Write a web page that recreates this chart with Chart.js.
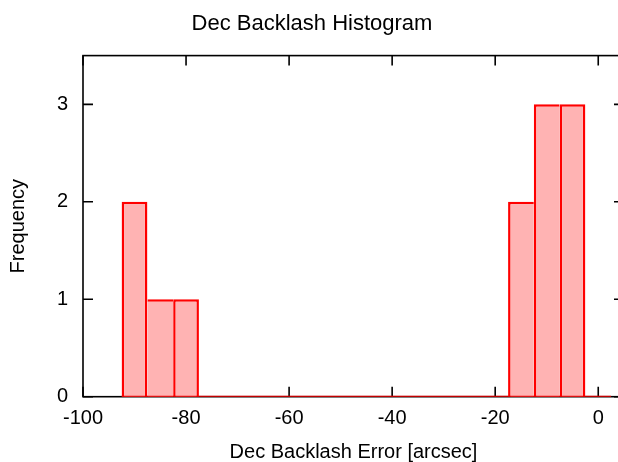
<!DOCTYPE html>
<html>
<head>
<meta charset="utf-8">
<script src="https://cdn.jsdelivr.net/npm/chart.js@4/dist/chart.umd.min.js"></script>
<style>
  body { margin: 0; background: #fff; overflow: hidden; }
  #wrap { width: 618px; height: 462px; overflow: hidden; }
</style>
</head>
<body>
<div id="wrap"><canvas id="myChart" width="624" height="462"></canvas></div>
<script>
// histogram bins (centre of each 5 arcsec bin) and their counts
const binCenters = [-90, -85, -80, -75, -70, -65, -60, -55, -50, -45, -40, -35, -30, -25, -20, -15, -10, -5, 0];
const counts     = [  2,   1,   1,   0,   0,   0,   0,   0,   0,   0,   0,   0,   0,   0,   0,   2,   3,   3, 0];
const binWidth = 5;
const xTicks = [-100, -80, -60, -40, -20, 0];
const yTicks = [0, 1, 2, 3];

const fontFam = "'Liberation Sans', Arial, sans-serif";

// gnuplot-like frame: border box plus inward ticks mirrored on all four sides
const frame = {
  id: 'frame',
  beforeDatasetsDraw(chart) {
    const {ctx, chartArea: a, scales: {x, y}} = chart;
    ctx.save();
    ctx.strokeStyle = '#000';
    ctx.lineWidth = 1.6;
    ctx.strokeRect(a.left, a.top, a.right - a.left, a.bottom - a.top);
    ctx.beginPath();
    xTicks.forEach(v => {
      const px = x.getPixelForValue(v);
      ctx.moveTo(px, a.bottom); ctx.lineTo(px, a.bottom - 10);
      ctx.moveTo(px, a.top); ctx.lineTo(px, a.top + 10);
    });
    yTicks.forEach(v => {
      const py = y.getPixelForValue(v);
      ctx.moveTo(a.left, py); ctx.lineTo(a.left + 10, py);
      ctx.moveTo(a.right, py); ctx.lineTo(a.right - 10, py);
    });
    ctx.stroke();
    ctx.restore();
  }
};

// a shared edge between two bins is drawn once, by the taller one (right one on a tie)
function edgeWidth(ctx) {
  const i = ctx.dataIndex;
  const own = counts[i];
  const prev = i > 0 ? counts[i - 1] : 0;
  const next = i < counts.length - 1 ? counts[i + 1] : 0;
  const w = 2.5;
  return {top: w, bottom: 0, left: prev > own ? 0 : w, right: next >= own ? 0 : w};
}

const first = binCenters[0] - binWidth / 2;
const last = binCenters[binCenters.length - 1] + binWidth / 2;

new Chart(document.getElementById('myChart'), {
  data: {
    datasets: [
      {
        type: 'line',
        label: 'baseline',
        data: [{x: first, y: 0}, {x: last, y: 0}],
        borderColor: '#ff0000',
        borderWidth: 2,
        pointRadius: 0,
        order: 0
      },
      {
        type: 'bar',
        label: 'Frequency',
        data: binCenters.map((c, i) => ({x: c, y: counts[i]})),
        backgroundColor: '#ffb3b3',
        borderColor: '#ff0000',
        borderWidth: edgeWidth,
        borderSkipped: false,
        inflateAmount: 0,
        barPercentage: 1,
        categoryPercentage: 1,
        order: 1
      }
    ]
  },
  options: {
    responsive: false,
    animation: false,
    devicePixelRatio: 1,
    layout: { padding: 0 },
    plugins: {
      legend: { display: false },
      tooltip: { enabled: false },
      title: {
        display: true,
        text: 'Dec Backlash Histogram',
        color: '#000',
        font: { family: fontFam, size: 22, weight: 'normal', lineHeight: 1.2 },
        padding: { top: 11, bottom: 18.2 }
      }
    },
    scales: {
      x: {
        type: 'linear',
        min: -100,
        max: 5,
        offset: false,
        grid: { display: false, drawTicks: false, offset: false },
        border: { display: false },
        afterBuildTicks: s => { s.ticks = xTicks.map(v => ({value: v})); },
        afterFit: s => { s.height = 65.3; },
        ticks: {
          color: '#000',
          padding: 10,
          maxRotation: 0,
          font: { family: fontFam, size: 20 },
          callback: v => String(v)
        },
        title: {
          display: true,
          text: 'Dec Backlash Error [arcsec]',
          color: '#000',
          font: { family: fontFam, size: 20, lineHeight: 1 },
          padding: { top: 0, bottom: 0 }
        }
      },
      y: {
        type: 'linear',
        min: 0,
        max: 3.5,
        grid: { display: false, drawTicks: false },
        border: { display: false },
        afterBuildTicks: s => { s.ticks = yTicks.map(v => ({value: v})); },
        afterFit: s => { s.width = 83; },
        ticks: {
          color: '#000',
          padding: 15,
          font: { family: fontFam, size: 20 },
          callback: v => String(v)
        },
        title: {
          display: true,
          text: 'Frequency',
          color: '#000',
          font: { family: fontFam, size: 20, lineHeight: 1 },
          padding: { top: 8, bottom: 0 }
        }
      }
    }
  },
  plugins: [frame]
});
</script>
</body>
</html>
